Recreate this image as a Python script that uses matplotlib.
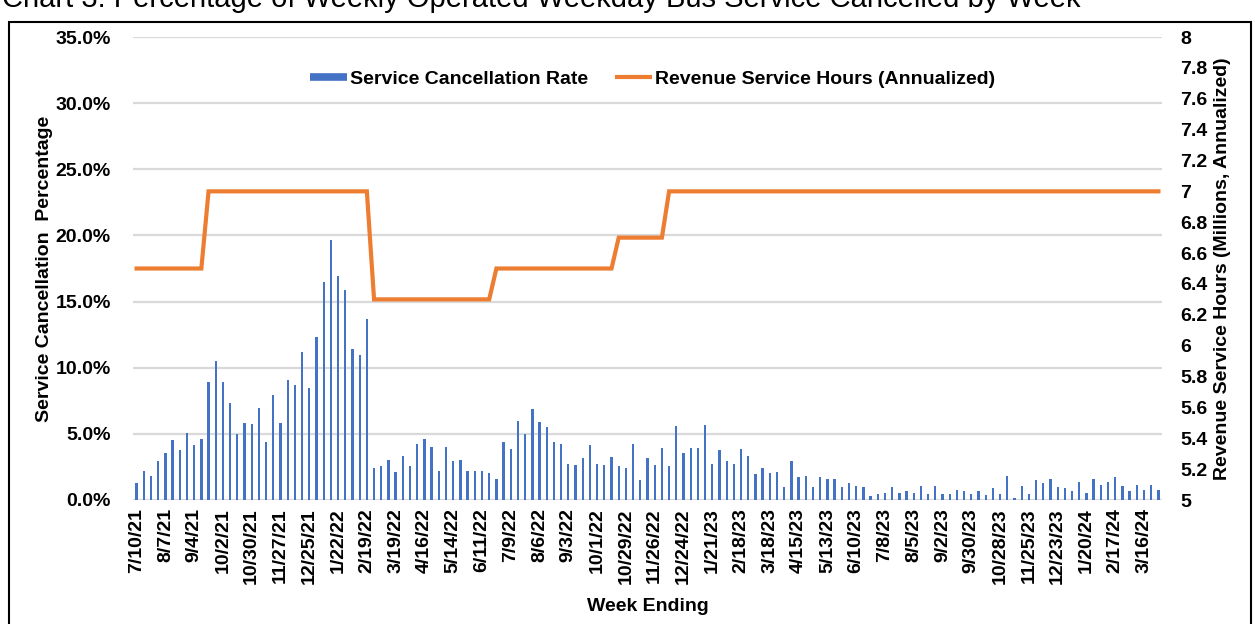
import matplotlib
matplotlib.use("Agg")
import matplotlib.pyplot as plt
from matplotlib.lines import Line2D
from matplotlib.patches import Rectangle
from matplotlib.ticker import FuncFormatter, MultipleLocator
import numpy as np
import pandas as pd

# ---------------- data ----------------
first_week = "2021-07-10"
n_weeks = 143

cancel_rate = [
    1.26, 2.2, 1.8, 2.95, 3.56, 4.55, 3.76, 5.03, 4.14, 4.62,
    8.94, 10.53, 8.94, 7.32, 4.97, 5.83, 5.71, 6.92, 4.42, 7.93,
    5.83, 9.07, 8.66, 11.21, 8.46, 12.35, 16.46, 19.62, 16.94, 15.86,
    11.41, 10.96, 13.71, 2.42, 2.55, 3.0,
    2.15, 3.35, 2.55, 4.22, 4.6, 4.0, 2.22, 4.0, 2.95, 3.0,
    2.2, 2.2, 2.2, 2.02, 1.55, 4.35, 3.82, 6.0, 5.02, 6.87,
    5.87, 5.55, 4.35, 4.22, 2.75, 2.62, 3.15, 4.15, 2.75, 2.62,
    3.22, 2.6, 2.4, 4.22, 1.5, 3.15, 2.62,
    3.95, 2.55, 5.62, 3.55, 3.92, 3.92, 5.67, 2.75, 3.75, 2.95,
    2.75, 3.82, 3.35, 1.95, 2.42, 2.02, 2.15, 0.95, 2.95, 1.75,
    1.82, 0.95, 1.75, 1.55, 1.55, 0.95, 1.27, 1.07, 0.95, 0.32,
    0.47, 0.55, 0.95, 0.55, 0.67, 0.55,
    1.09, 0.48, 1.09, 0.48, 0.48, 0.76, 0.68, 0.48, 0.68, 0.35,
    0.88, 0.48, 1.84, 0.15, 1.09, 0.48, 1.49, 1.29, 1.57, 0.96,
    0.88, 0.68, 1.36, 0.56, 1.57, 1.16, 1.36, 1.77, 1.09, 0.68,
    1.16, 0.76, 1.16, 0.76,
]

# Revenue service hours (millions, annualized): level and number of weeks at that level
rsh_levels = [6.5, 7.0, 6.3, 6.5, 6.7, 7.0]
rsh_weeks = [10, 23, 17, 17, 7, 69]

weeks = pd.date_range(first_week, periods=n_weeks, freq="7D")
week_labels = [f"{d.month}/{d.day}/{d.year % 100}" for d in weeks]
rev_hours = [lvl for lvl, n in zip(rsh_levels, rsh_weeks) for _ in range(n)]

title_text = "Chart 3: Percentage of Weekly Operated Weekday Bus Service Cancelled by Week"

# ---------------- style ----------------
BLUE = "#4472C4"
ORANGE = "#ED7D31"
GRID = "#D9D9D9"
FONT = "Liberation Sans"
FS = 14

plt.rcParams["font.family"] = [FONT, "DejaVu Sans"]
plt.rcParams["font.weight"] = "bold"

W, H = 1255, 624
fig = plt.figure(figsize=(W / 100, H / 100), dpi=100)
L, R, T, B = 133, 1162, 37, 500
ax = fig.add_axes([L / W, 1 - B / H, (R - L) / W, (B - T) / H])

x = np.arange(n_weeks)
ax.bar(x, cancel_rate, width=0.32, color=BLUE, zorder=3)
ax.set_xlim(-0.5, n_weeks - 0.5)
ax.set_ylim(0, 35)
ax.yaxis.set_major_locator(MultipleLocator(5))
ax.yaxis.set_major_formatter(FuncFormatter(lambda v, p: f"{v:.1f}%"))
ax.grid(axis="y", color=GRID, linewidth=1.6, zorder=0)
ax.set_axisbelow(True)
for s in ax.spines.values():
    s.set_visible(False)

tick_pos = x[::4]
ax.set_xticks(tick_pos)
ax.set_xticklabels([week_labels[i] for i in tick_pos], rotation=90,
                   fontsize=FS, fontweight="bold")
ax.tick_params(axis="x", length=0, pad=6)
ax.tick_params(axis="y", length=0, pad=16, labelsize=FS)
ax.set_xlabel("Week Ending", fontsize=FS, fontweight="bold", labelpad=10)
ax.set_ylabel("Service Cancellation  Percentage", fontsize=FS,
              fontweight="bold", labelpad=0)
ax.yaxis.set_label_coords((53 - L) / (R - L), 0.5)

ax2 = ax.twinx()
ax2.plot(x, rev_hours, color=ORANGE, linewidth=3.0, solid_joinstyle="miter",
         zorder=4)
ax2.set_ylim(5, 8)
ax2.yaxis.set_major_locator(MultipleLocator(0.2))
ax2.yaxis.set_major_formatter(FuncFormatter(lambda v, p: f"{round(v, 1):g}"))
ax2.tick_params(axis="y", length=0, pad=13, labelsize=FS)
for s in ax2.spines.values():
    s.set_visible(False)
ax2.set_ylabel("Revenue Service Hours (Millions, Annualized)", fontsize=FS,
               fontweight="bold", labelpad=0)
ax2.yaxis.set_label_coords((1214 - L) / (R - L), 0.5)

handles = [Line2D([], [], color=BLUE, linewidth=5.5, solid_capstyle="butt"),
           Line2D([], [], color=ORANGE, linewidth=3.0, solid_capstyle="butt")]
ax2.legend(handles, ["Service Cancellation Rate", "Revenue Service Hours (Annualized)"],
           loc="center", bbox_to_anchor=(0.505, 0.909), ncol=2, frameon=False,
           handlelength=1.9, handletextpad=0.15,
           columnspacing=1.4, prop={"family": FONT, "weight": "bold", "size": FS})

# outer frame of the exhibit
fig.patches.append(Rectangle((9 / W, -0.05), (1251 - 9) / W, 1.05 - 22 / H,
                             transform=fig.transFigure, fill=False,
                             edgecolor="black", linewidth=1.5))
# title (cropped at top in the original)
fig.text(2 / W, 1 - 7 / H, title_text, fontsize=21, fontweight="normal",
         ha="left", va="baseline", family=FONT)

fig.savefig("out.png", dpi=100)
